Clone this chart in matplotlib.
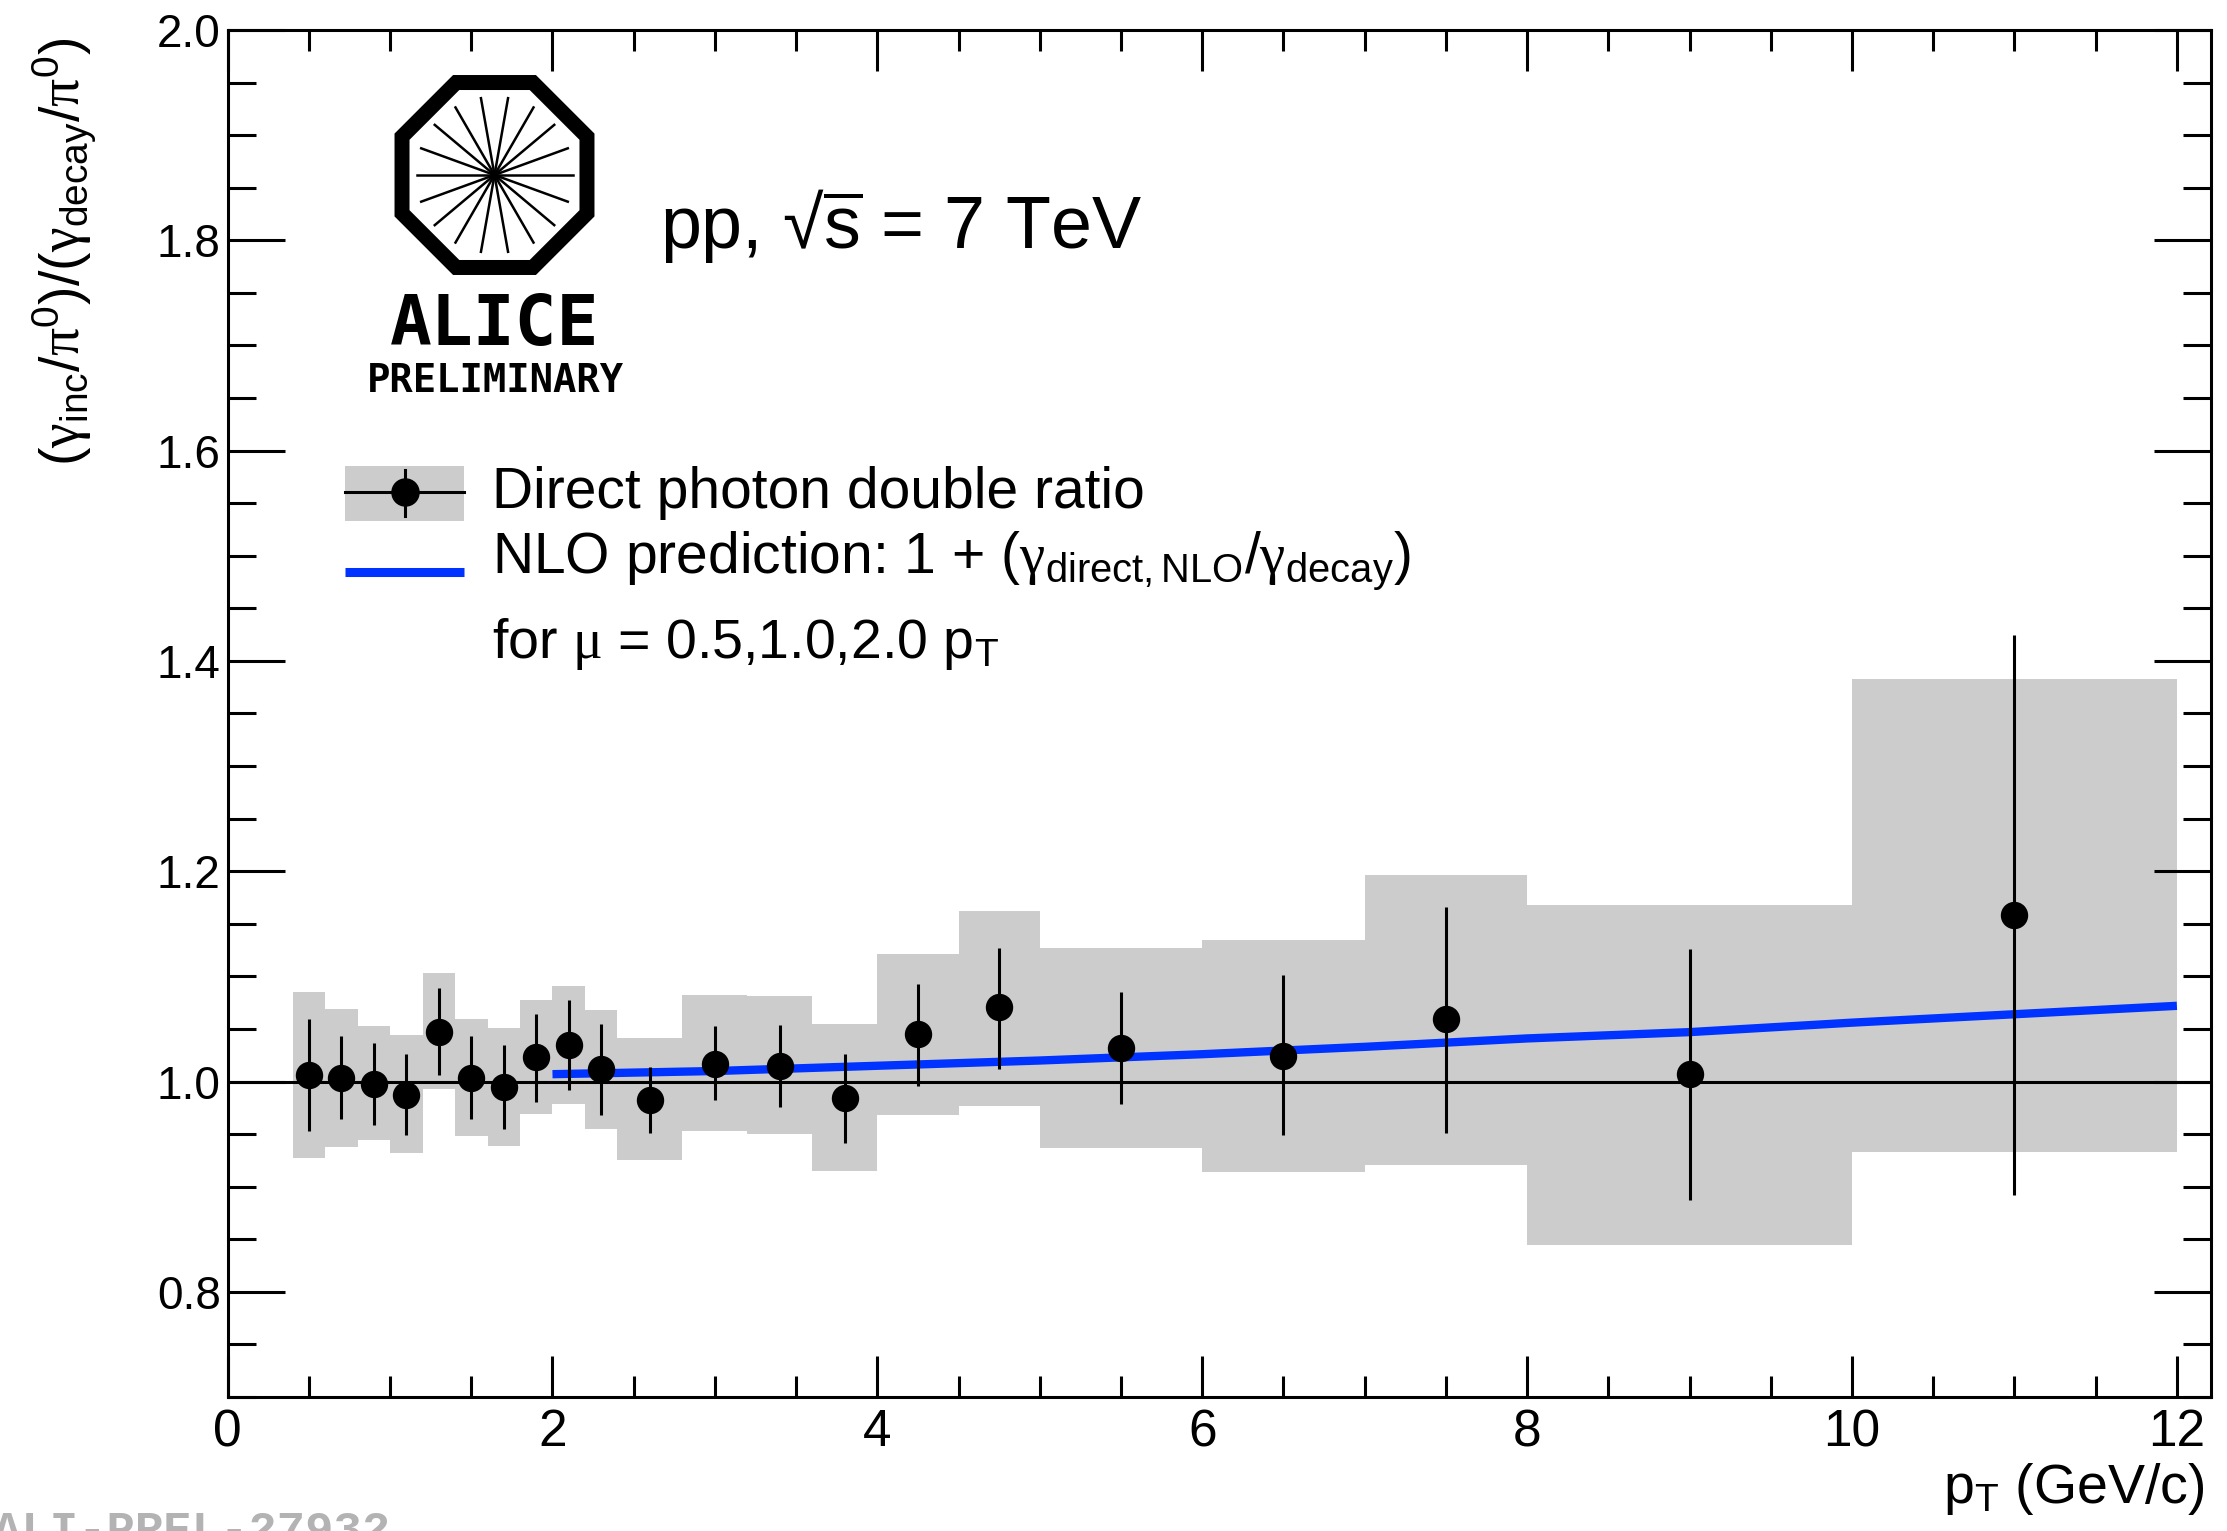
import numpy as np
import matplotlib
matplotlib.use("Agg")
import matplotlib.pyplot as plt
from matplotlib.patches import RegularPolygon, Rectangle
from matplotlib.ticker import MultipleLocator, FormatStrFormatter

plt.rcParams['font.family'] = ['Liberation Sans', 'DejaVu Sans']
plt.rcParams['mathtext.fontset'] = 'custom'
plt.rcParams['mathtext.rm'] = 'Liberation Sans'
plt.rcParams['mathtext.it'] = 'Liberation Sans:italic'
plt.rcParams['mathtext.bf'] = 'Liberation Sans:bold'
plt.rcParams['mathtext.sf'] = 'Liberation Serif'

# double ratio points (pT bin centres, value, stat. error ends, syst. box ends)
pt = np.array([0.5, 0.7, 0.9, 1.1, 1.3, 1.5, 1.7, 1.9, 2.1, 2.3, 2.6, 3.0, 3.4, 3.8,
               4.25, 4.75, 5.5, 6.5, 7.5, 9.0, 11.0])
bin_lo = np.array([0.4, 0.6, 0.8, 1.0, 1.2, 1.4, 1.6, 1.8, 2.0, 2.2, 2.4, 2.8, 3.2, 3.6,
                   4.0, 4.5, 5.0, 6.0, 7.0, 8.0, 10.0])
bin_hi = np.array([0.6, 0.8, 1.0, 1.2, 1.4, 1.6, 1.8, 2.0, 2.2, 2.4, 2.8, 3.2, 3.6, 4.0,
                   4.5, 5.0, 6.0, 7.0, 8.0, 10.0, 12.0])
ratio = np.array([1.006, 1.003, 0.998, 0.987, 1.047, 1.003, 0.995, 1.023, 1.035, 1.012,
                  0.982, 1.017, 1.015, 0.984, 1.045, 1.071, 1.032, 1.024, 1.059, 1.007, 1.158])
stat_hi = np.array([1.059, 1.043, 1.037, 1.026, 1.089, 1.043, 1.035, 1.064, 1.078, 1.055,
                    1.014, 1.053, 1.054, 1.026, 1.093, 1.127, 1.085, 1.101, 1.166, 1.126, 1.425])
stat_lo = np.array([0.953, 0.964, 0.959, 0.949, 1.006, 0.964, 0.955, 0.981, 0.992, 0.968,
                    0.951, 0.982, 0.976, 0.942, 0.996, 1.012, 0.979, 0.949, 0.951, 0.887, 0.892])
sys_hi = np.array([1.085, 1.069, 1.053, 1.044, 1.103, 1.059, 1.051, 1.078, 1.091, 1.068,
                   1.041, 1.082, 1.081, 1.055, 1.121, 1.162, 1.127, 1.135, 1.196, 1.168, 1.383])
sys_lo = np.array([0.927, 0.938, 0.944, 0.932, 0.993, 0.948, 0.939, 0.969, 0.979, 0.955,
                   0.925, 0.953, 0.950, 0.915, 0.968, 0.977, 0.937, 0.914, 0.921, 0.845, 0.933])

# NLO curve
nlo_pt = np.array([2, 3, 4, 5, 6, 7, 8, 9, 10, 11, 12])
nlo_val = np.array([1.007, 1.010, 1.015, 1.020, 1.026, 1.033, 1.041, 1.047, 1.056, 1.064, 1.072])

y_ticks = [0.8, 1.0, 1.2, 1.4, 1.6, 1.8, 2.0]
x_ticks = [0, 2, 4, 6, 8, 10, 12]

W, H = 2227, 1531
fig = plt.figure(figsize=(W / 100, H / 100), dpi=100)
ax = fig.add_axes([227.6 / W, 1 - 1397 / H, (2211 - 227.6) / W, (1397 - 30) / H])

grey = '#cccccc'
blue = '#0033ff'

ax.bar(bin_lo, sys_hi - sys_lo, bottom=sys_lo, width=bin_hi - bin_lo, align='edge',
       color=grey, linewidth=0, zorder=1)
ax.axhline(1.0, color='black', lw=2.2, zorder=2)
ax.plot(nlo_pt, nlo_val, color=blue, lw=6, zorder=3, solid_capstyle='butt')
ax.errorbar(pt, ratio, yerr=[ratio - stat_lo, stat_hi - ratio], fmt='o', color='black',
            ms=18.7, elinewidth=2.2, capsize=0, zorder=5)

ax.set_xlim(0, 12.21)
ax.set_ylim(0.7, 2.0)
ax.set_xticks(x_ticks)
ax.set_yticks(y_ticks)
ax.xaxis.set_minor_locator(MultipleLocator(0.5))
ax.yaxis.set_minor_locator(MultipleLocator(0.05))
ax.yaxis.set_major_formatter(FormatStrFormatter('%.1f'))
ax.tick_params(which='both', direction='in', top=True, right=True, width=2.2, color='black')
ax.tick_params(axis='x', which='major', length=29.5, labelsize=37, pad=8)
ax.tick_params(axis='x', which='minor', length=15)
ax.tick_params(axis='y', which='major', length=41, labelsize=33, pad=5)
ax.tick_params(axis='y', which='minor', length=20)
for s in ax.spines.values():
    s.set_linewidth(2.2)

# axis titles
fig.text(64 / W, 1 - 38 / H,
         r"($\mathsf{\gamma}_{\mathrm{inc}}$/$\mathsf{\pi}^{0}$)/($\mathsf{\gamma}_{\mathrm{decay}}$/$\mathsf{\pi}^{0}$)",
         rotation=90, ha='center', va='top', fontsize=40)
fig.text(2205 / W, 1 - 1503 / H, r"p$_{\mathrm{T}}$ (GeV/c)", ha='right', va='baseline', fontsize=40)

# overlay in pixel coordinates for legend, logo and labels
ov = fig.add_axes([0, 0, 1, 1])
ov.set_xlim(0, W)
ov.set_ylim(H, 0)
ov.axis('off')

# legend
ov.add_patch(Rectangle((345, 466), 119, 55, color=grey, lw=0))
ov.plot([345, 464], [492, 492], color='black', lw=2.2)
ov.plot([404.5, 404.5], [470, 516], color='black', lw=2.2)
ov.plot([404.5], [492], 'o', color='black', ms=19.5)
ov.plot([345, 464], [571.5, 571.5], color=blue, lw=6.5, solid_capstyle='butt')
ov.text(492, 508, "Direct photon double ratio", fontsize=41, va='baseline')
ov.text(492, 573, r"NLO prediction: 1 + ($\mathsf{\gamma}_{\mathrm{direct,NLO}}$/$\mathsf{\gamma}_{\mathrm{decay}}$)",
        fontsize=41, va='baseline')
ov.text(492, 658, r"for $\mathsf{\mu}$ = 0.5,1.0,2.0 p$_{\mathrm{T}}$", fontsize=40, va='baseline')

ov.text(660, 248, r"pp, √$\overline{\mathrm{s}}$ = 7 TeV", fontsize=53, va='baseline')

# ALICE logo
cx, cy = 494.5, 175
ov.add_patch(RegularPolygon((cx, cy), 8, radius=100.1, orientation=np.pi / 8,
                            fill=False, lw=10.8, ec='black', joinstyle='miter'))
for a in np.deg2rad(np.arange(0, 180, 20)):
    ov.plot([cx - 78 * np.cos(a), cx + 78 * np.cos(a)],
            [cy - 78 * np.sin(a), cy + 78 * np.sin(a)], color='black', lw=1.8)
ov.text(495, 345, "ALICE", family='DejaVu Sans Mono', weight='bold', fontsize=50,
        ha='center', va='baseline')
ov.text(495, 392, "PRELIMINARY", family='DejaVu Sans Mono', weight='bold', fontsize=28,
        ha='center', va='baseline')

# preliminary figure id, cut by the lower edge as in the original
ov.text(-7, 1544, "ALI-PREL-27932", family='Liberation Mono', weight='bold', fontsize=34,
        color='#b3b3b3', va='baseline', ha='left')

fig.savefig('out.png', dpi=100)
